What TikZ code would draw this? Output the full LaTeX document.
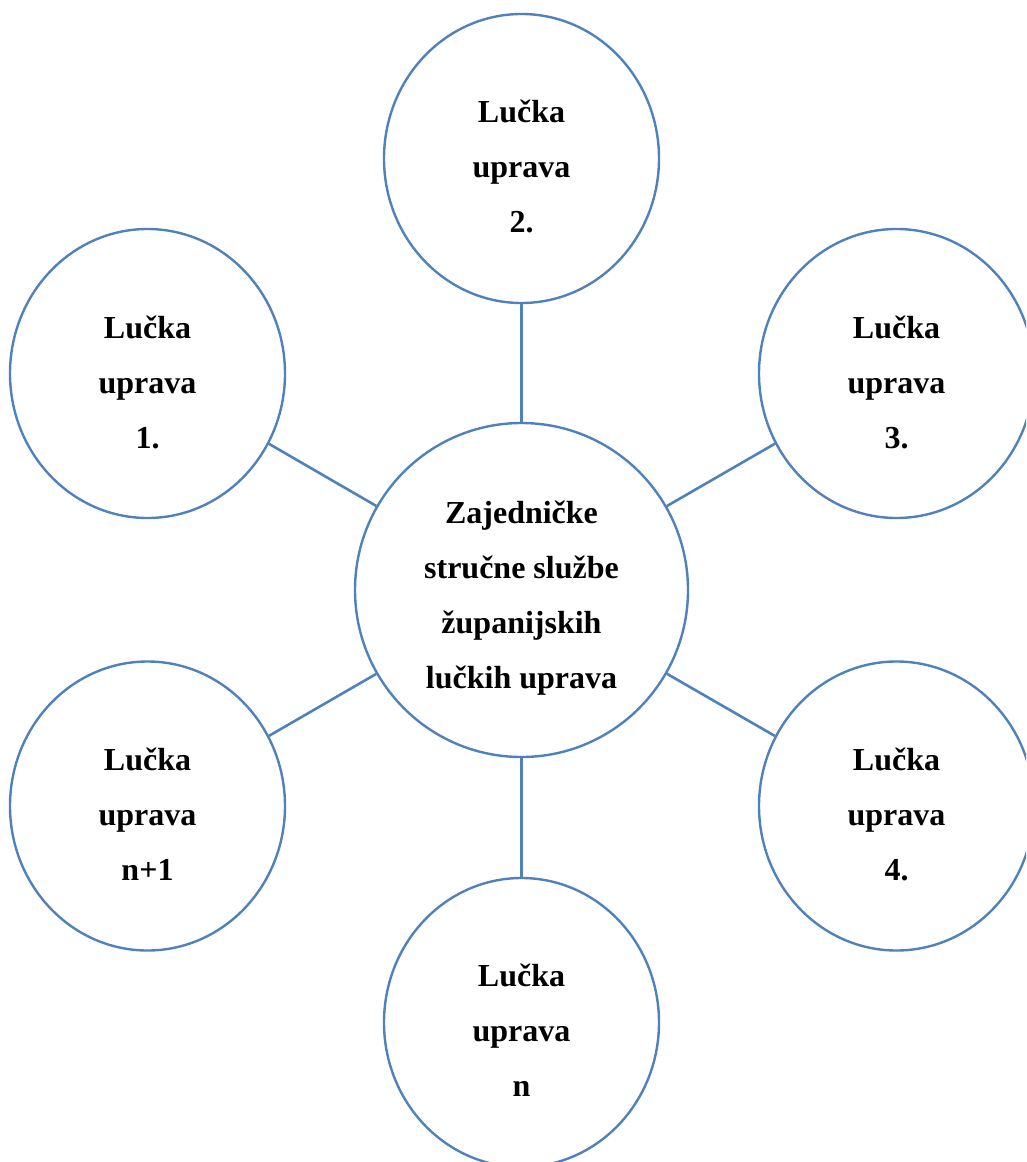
\documentclass[tikz,border=0pt]{standalone}
\usepackage{fontspec}
\setmainfont{Liberation Serif}
\usetikzlibrary{shapes.geometric,calc}
\definecolor{circblue}{RGB}{79,129,189}
\begin{document}
\begin{tikzpicture}[x=1pt,y=-1pt,
  port/.style={ellipse,draw=circblue,line width=2.4pt,minimum width=275pt,minimum height=289pt,inner sep=0pt},
  hub/.style={ellipse,draw=circblue,line width=2.4pt,minimum width=333pt,minimum height=334pt,inner sep=0pt},
  lbl/.style={align=center,font=\bfseries\fontsize{32}{55}\selectfont,inner sep=0pt},
  link/.style={draw=circblue,line width=2.6pt}]
\useasboundingbox (0,0) rectangle (1026,1162);
\clip (0,0) rectangle (1026,1162);
\node[hub] (c0) at (521.5,590) {};
\node[port] (c2) at (521.5,158.5) {};
\node[port] (c1) at (147.5,373.5) {};
\node[port] (c3) at (896.5,373.5) {};
\node[port] (cn1) at (147.5,806) {};
\node[port] (c4) at (896.5,806) {};
\node[port] (cn) at (521.5,1022.5) {};
\node[lbl] (t0) at (521.5,598) {Zajedničke\\stručne službe\\županijskih\\lučkih uprava};
\node[lbl] (t2) at (521.5,166) {Lučka\\uprava\\2.};
\node[lbl] (t1) at (147.5,382) {Lučka\\uprava\\1.};
\node[lbl] (t3) at (896.5,382) {Lučka\\uprava\\3.};
\node[lbl] (tn1) at (147.5,814) {Lučka\\uprava\\n+1};
\node[lbl] (t4) at (896.5,814) {Lučka\\uprava\\4.};
\node[lbl] (tn) at (521.5,1030) {Lučka\\uprava\\n};
\draw[link] (c0) -- (c2);
\draw[link] (c0) -- (c1);
\draw[link] (c0) -- (c3);
\draw[link] (c0) -- (cn1);
\draw[link] (c0) -- (c4);
\draw[link] (c0) -- (cn);
\end{tikzpicture}
\end{document}
